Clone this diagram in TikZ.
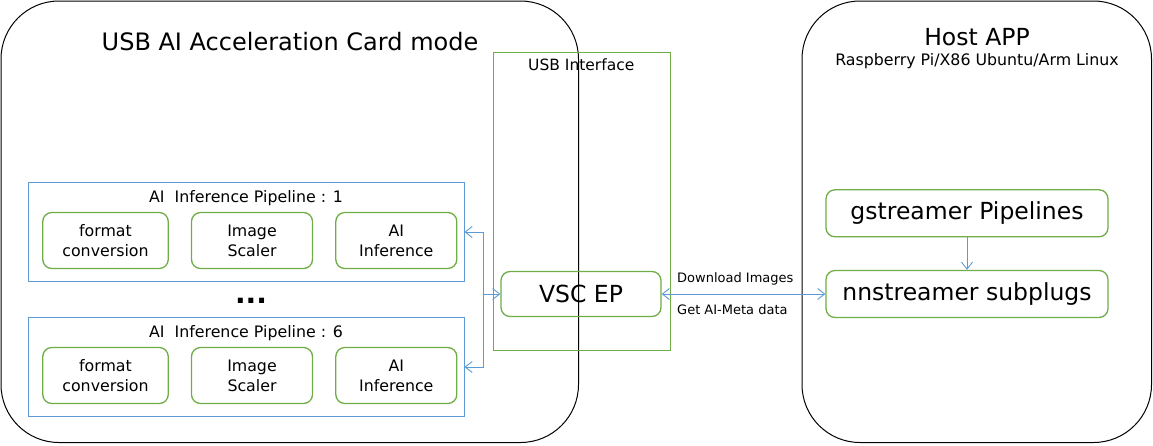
\documentclass[tikz,border=0pt]{standalone}
\usepackage{fontspec}
\setmainfont{DejaVu Sans}
\usetikzlibrary{arrows.meta}
\definecolor{stagegreen}{RGB}{112,173,71}
\definecolor{busblue}{RGB}{91,155,213}
\tikzset{
	stagebox/.style={draw=stagegreen,line width=1.3pt,rounded corners=9pt,minimum width=121pt,minimum height=56pt,align=center,inner sep=0pt,font=\fontsize{15.8}{20}\selectfont},
	pipebox/.style={draw=busblue,line width=1pt,minimum width=436pt,minimum height=99pt},
	cardbox/.style={draw=stagegreen,line width=1.3pt,rounded corners=9pt,minimum width=282pt,minimum height=47pt,font=\fontsize{23.5}{28}\selectfont},
	bus/.style={draw=busblue,line width=0.9pt,-{Straight Barb[length=7pt,width=11pt]}},
	hull/.style={draw,line width=1pt,rounded corners=58pt}
}
\begin{document}
\begin{tikzpicture}[x=1pt,y=-1pt]
	\useasboundingbox (0,0) rectangle (1153,445);
	\draw[hull] (1,1) rectangle (578.5,442.5);
	\draw[hull] (802,1) rectangle (1151.5,442.5);
	\node[font=\fontsize{24}{29}\selectfont,anchor=base,inner sep=0pt] (cardname) at (290,50) {USB AI Acceleration Card mode};
	\node[font=\fontsize{23.5}{28}\selectfont,anchor=base,inner sep=0pt] (hostname) at (977,45) {Host APP};
	\node[font=\fontsize{15.8}{19}\selectfont,anchor=base,inner sep=0pt] (hostos) at (977,65.5) {Raspberry Pi/X86 Ubuntu/Arm Linux};
	\node[draw=stagegreen,line width=0.9pt,minimum width=177pt,minimum height=298pt] (usb) at (582,201.7) {};
	\node[font=\fontsize{15.5}{19}\selectfont,anchor=base,inner sep=0pt] (usbname) at (581.3,70.7) {USB Interface};
	\foreach \k/\y in {1/232,6/367} {
		\node[pipebox] (pipe\k) at (246,\y) {};
		\node[font=\fontsize{15.8}{19}\selectfont,anchor=base,inner sep=0pt] (pipename\k) at (246,\y-30) {AI\ \ Inference Pipeline : \k};
		\node[stagebox,minimum width=125.5pt] (fmt\k) at (105.5,\y+8.5) {format\\conversion};
		\node[stagebox] (scl\k) at (252,\y+8.5) {Image\\Scaler};
		\node[stagebox] (inf\k) at (396.3,\y+8.5) {AI\\Inference};
	}
	\node[font=\fontsize{28}{32}\selectfont\bfseries,anchor=base,inner sep=0pt] (gap) at (251,303) {...};
	\node[cardbox,minimum width=160pt,minimum height=45pt] (vsc) at (581,294) {VSC EP};
	\node[cardbox] (gst) at (967,213.3) {gstreamer Pipelines};
	\node[cardbox] (nns) at (967,294) {nnstreamer subplugs};
	\coordinate (fork) at (483,294);
	\draw[bus] (fork) -- (vsc.west);
	\draw[bus] (fork) |- (pipe1.east);
	\draw[bus] (fork) |- (pipe6.east);
	\draw[bus,{Straight Barb[length=7pt,width=11pt]}-{Straight Barb[length=7pt,width=11pt]}] (vsc) -- (nns);
	\draw[bus] (gst) -- (nns);
	\node[font=\fontsize{13}{16}\selectfont,anchor=base west,inner sep=0pt] (down) at (677,282.3) {Download Images};
	\node[font=\fontsize{13}{16}\selectfont,anchor=base west,inner sep=0pt] (meta) at (677,314) {Get AI-Meta data};
\end{tikzpicture}
\end{document}
